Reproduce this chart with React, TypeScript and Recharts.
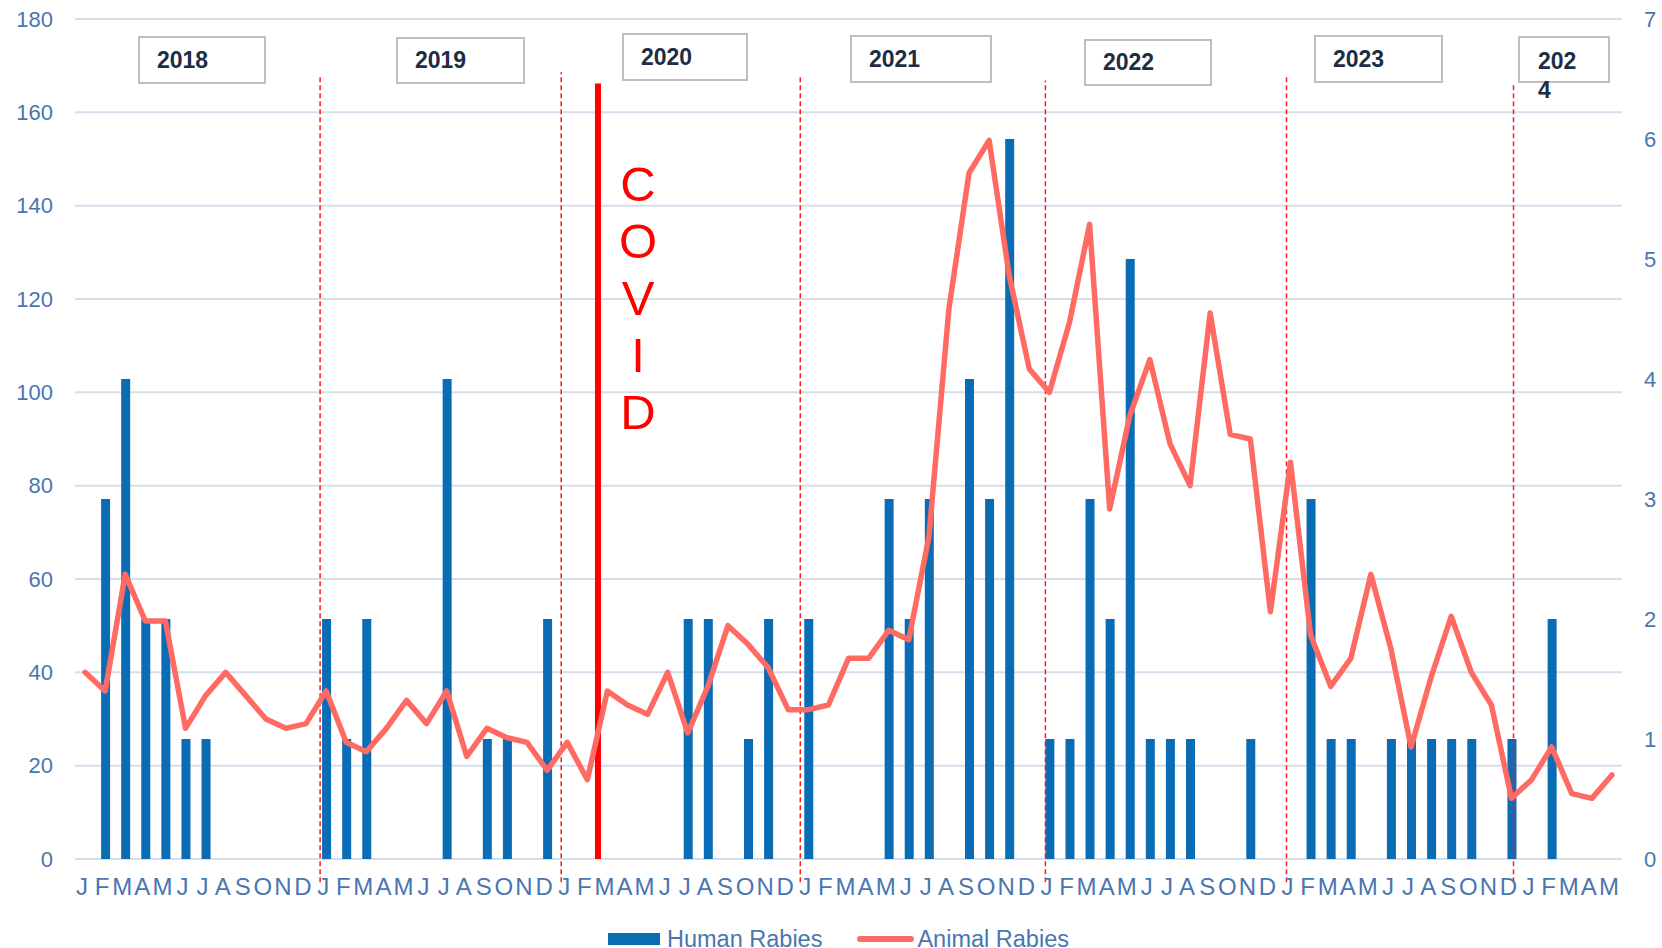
import React from "react";
import {
  Bar,
  CartesianGrid,
  ComposedChart,
  Legend,
  Line,
  ReferenceLine,
  XAxis,
  YAxis,
} from "recharts";

// Jan 2018 .. May 2024, one entry per month
const years = ["2018", "2019", "2020", "2021", "2022", "2023", "2024"];
const monthsInYear = [12, 12, 12, 12, 12, 12, 5];
const monthLetters = ["J", "F", "M", "A", "M", "J", "J", "A", "S", "O", "N", "D"];

const humanRabies = [
  0, 3, 4, 2, 2, 1, 1, 0, 0, 0, 0, 0,
  2, 1, 2, 0, 0, 0, 4, 0, 1, 1, 0, 2,
  0, 0, 0, 0, 0, 0, 2, 2, 0, 1, 2, 0,
  2, 0, 0, 0, 3, 2, 3, 0, 4, 3, 6, 0,
  1, 1, 3, 2, 5, 1, 1, 1, 0, 0, 1, 0,
  0, 3, 1, 1, 0, 1, 1, 1, 1, 1, 0, 1,
  0, 2, 0, 0, 0,
];

const animalRabies = [
  40, 36, 61, 51, 51, 28, 35, 40, 35, 30, 28, 29,
  36, 25, 23, 28, 34, 29, 36, 22, 28, 26, 25, 19,
  25, 17, 36, 33, 31, 40, 27, 37, 50, 46, 41, 32,
  32, 33, 43, 43, 49, 47, 69, 118, 147, 154, 125, 105,
  100, 115, 136, 75, 95, 107, 89, 80, 117, 91, 90, 53,
  85, 48, 37, 43, 61, 45, 24, 39, 52, 40, 33, 13,
  17, 24, 14, 13, 18,
];

const leftTicks = [0, 20, 40, 60, 80, 100, 120, 140, 160, 180];
const rightTicks = [0, 1, 2, 3, 4, 5, 6, 7];

// year separators (month units on a 0..77 scale) and the COVID marker
const yearBreaks = [12.2, 24.2, 36.1, 48.3, 60.3, 71.6];
const breakTops = [167.8, 168.6, 167.8, 166.8, 168.2, 166.3];
const covidAt = 26.03;

const data: { key: string; pos: number; human: number; animal: number }[] = [];
years.forEach((y, yi) => {
  for (let m = 0; m < monthsInYear[yi]; m++) {
    const i = data.length;
    data.push({
      key: `${y}-${String(m + 1).padStart(2, "0")}`,
      pos: i + 0.5,
      human: humanRabies[i],
      animal: animalRabies[i],
    });
  }
});

const FONT = '"Liberation Sans", Arial, Helvetica, sans-serif';
const AXIS_BLUE = "#4a76b0";
const BAR_BLUE = "#0a6cb5";
const LINE_RED = "#ff6b62";
const YEAR_INK = "#1d2d44";

const yearBoxes = [
  { label: "2018", left: 138, top: 36, width: 128, height: 48 },
  { label: "2019", left: 396, top: 37, width: 129, height: 47 },
  { label: "2020", left: 622, top: 33, width: 126, height: 48 },
  { label: "2021", left: 850, top: 35, width: 142, height: 48 },
  { label: "2022", left: 1084, top: 39, width: 128, height: 47 },
  { label: "2023", left: 1314, top: 35, width: 129, height: 48 },
];

const MonthTick = ({ x, y, payload }: any) => {
  const m = Number(String(payload.value).slice(5)) - 1;
  return (
    <text
      x={x - 3}
      y={y}
      dy={36}
      textAnchor="middle"
      fontSize={24}
      fontFamily={FONT}
      fill={AXIS_BLUE}
    >
      {monthLetters[m]}
    </text>
  );
};

const LegendContent = () => (
  <div
    style={{
      position: "relative",
      top: 3,
      height: 24,
      display: "flex",
      alignItems: "center",
      paddingLeft: 608,
      fontFamily: FONT,
      fontSize: 23.5,
      color: AXIS_BLUE,
      whiteSpace: "nowrap",
    }}
  >
    <span style={{ width: 52, height: 12, background: BAR_BLUE, marginRight: 7 }} />
    <span>Human Rabies</span>
    <span
      style={{
        width: 57,
        height: 6,
        borderRadius: 3,
        background: LINE_RED,
        marginLeft: 35,
        marginRight: 3,
      }}
    />
    <span>Animal Rabies</span>
  </div>
);

export default function App() {
  return (
    <div
      style={{
        position: "absolute",
        left: 0,
        top: 0,
        width: 1662,
        height: 948,
        background: "#fff",
        fontFamily: FONT,
        overflow: "hidden",
      }}
    >
      <ComposedChart
        width={1662}
        height={948}
        data={data}
        margin={{ top: 19, right: 0, bottom: 0, left: 0 }}
      >
        <CartesianGrid
          vertical={false}
          yAxisId="left"
          xAxisId="cat"
          stroke="#d5dfeb"
          strokeWidth={2}
        />
        <XAxis
          xAxisId="cat"
          dataKey="key"
          interval={0}
          axisLine={false}
          tickLine={false}
          tickSize={0}
          tickMargin={0}
          height={65}
          tick={<MonthTick />}
        />
        <XAxis
          xAxisId="num"
          dataKey="pos"
          type="number"
          domain={[0, 77]}
          allowDataOverflow
          hide
        />
        <YAxis
          yAxisId="left"
          domain={[0, 180]}
          ticks={leftTicks}
          width={75}
          axisLine={false}
          tickLine={false}
          tickSize={0}
          tickMargin={22}
          tick={{ fontSize: 22, fill: AXIS_BLUE, fontFamily: FONT }}
        />
        <YAxis
          yAxisId="right"
          orientation="right"
          domain={[0, 7]}
          ticks={rightTicks}
          width={40}
          axisLine={false}
          tickLine={false}
          tickSize={0}
          tickMargin={22}
          tick={{ fontSize: 22, fill: AXIS_BLUE, fontFamily: FONT }}
        />
        <Legend verticalAlign="bottom" content={<LegendContent />} wrapperStyle={{ left: 0, width: 1662 }} />
        <Bar
          xAxisId="cat"
          yAxisId="right"
          dataKey="human"
          name="Human Rabies"
          fill={BAR_BLUE}
          barSize={9}
          isAnimationActive={false}
        />
        {yearBreaks.map((x, i) => (
          <ReferenceLine
            key={x}
            xAxisId="num"
            yAxisId="left"
            segment={[
              { x, y: -5 },
              { x, y: breakTops[i] },
            ]}
            stroke="#ff1a1a"
            strokeWidth={1.5}
            strokeDasharray="5 3"
            ifOverflow="visible"
          />
        ))}
        <ReferenceLine
          xAxisId="num"
          yAxisId="left"
          segment={[
            { x: covidAt, y: 0 },
            { x: covidAt, y: 166.2 },
          ]}
          stroke="#ff0000"
          strokeWidth={6}
          ifOverflow="visible"
        />
        <Line
          xAxisId="cat"
          yAxisId="left"
          type="linear"
          dataKey="animal"
          name="Animal Rabies"
          stroke={LINE_RED}
          strokeWidth={5.5}
          strokeLinejoin="round"
          strokeLinecap="round"
          dot={false}
          activeDot={false}
          isAnimationActive={false}
        />
      </ComposedChart>

      {yearBoxes.map((b) => (
        <div
          key={b.label}
          style={{
            position: "absolute",
            left: b.left,
            top: b.top,
            width: b.width,
            height: b.height,
            boxSizing: "border-box",
            border: "2px solid #bfbfbf",
            background: "#fff",
            paddingLeft: 17,
            lineHeight: `${b.height - 4}px`,
            fontSize: 23,
            fontWeight: 700,
            color: YEAR_INK,
          }}
        >
          {b.label}
        </div>
      ))}
      <div
        style={{
          position: "absolute",
          left: 1518,
          top: 36,
          width: 92,
          height: 47,
          boxSizing: "border-box",
          border: "2px solid #bfbfbf",
          background: "#fff",
          paddingLeft: 18,
          paddingTop: 9,
          fontSize: 23,
          fontWeight: 700,
          lineHeight: "29px",
          color: YEAR_INK,
        }}
      >
        <div style={{ width: 45, wordBreak: "break-all" }}>{years[6]}</div>
      </div>

      <div
        style={{
          position: "absolute",
          left: 608,
          top: 156,
          width: 60,
          textAlign: "center",
          fontSize: 49,
          lineHeight: "57px",
          color: "#ff0000",
        }}
      >
        {"COVID".split("").map((c, i) => (
          <div key={i}>{c}</div>
        ))}
      </div>
    </div>
  );
}
